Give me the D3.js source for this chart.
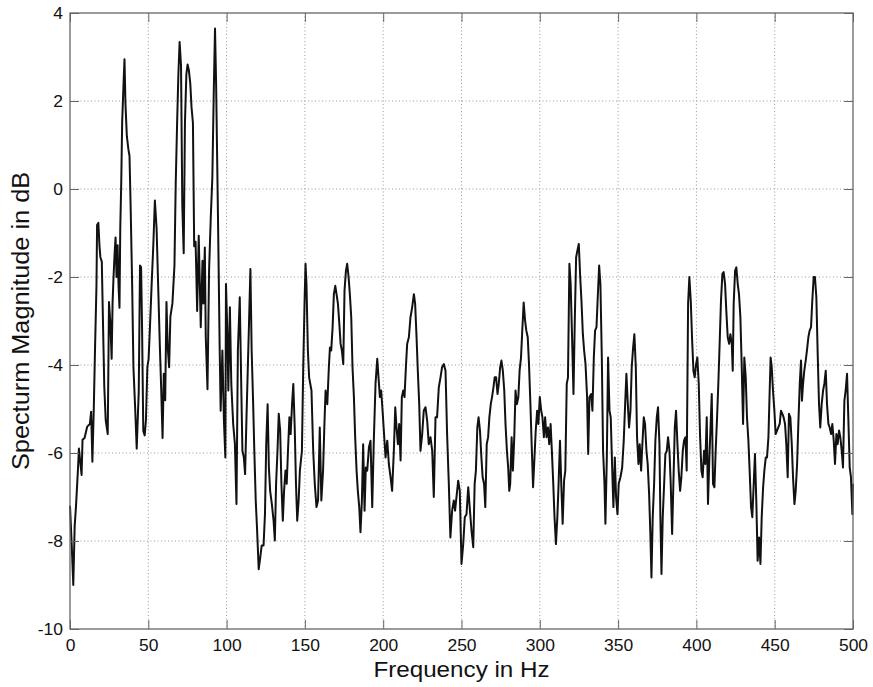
<!DOCTYPE html>
<html lang="en">
  <head>
    <meta charset="utf-8">
    <title>Spectrum</title>
    <script src="https://d3js.org/d3.v7.min.js"></script>
    <style>
      body { margin: 0; background: #fff; }
      svg text { font-family: "Liberation Sans", Arial, sans-serif; fill: #111; }
      .grid line { stroke: #999; stroke-width: 1px; stroke-dasharray: 1,2.5; }
      .tick-mark { stroke: #666; stroke-width: 1px; }
      .frame { fill: none; stroke: #666; stroke-width: 1.3px; }
      .spec { fill: none; stroke: #111; stroke-width: 2px; stroke-linejoin: round; }
    </style>
  </head>
  <body>
    <svg id="chart" width="873" height="687"></svg>
    <script>
      // frequency (Hz) and magnitude (dB)
      const freqHz = [
        0, 1, 2.1, 3, 3.8, 5.1, 5.7, 7.4, 8, 9.3, 11, 12.7, 13.5, 14.3, 15.2, 16, 16.9, 17.3, 18.1, 18.8,
        19.4, 20.3, 21.1, 21.9, 22.8, 24.1, 24.9, 25.7, 26.6, 27.2, 27.8, 28.5, 29.1, 29.7, 30.4, 31, 31.6, 32.1, 32.7, 33.3,
        34.2, 34.8, 35.4, 36.3, 37.3, 38, 38.8, 39.7, 40.5, 41.6, 42.6, 43.9, 44.7, 45.4, 46, 46.8, 47.7, 48.5, 49.4, 50.2,
        51.1, 52.1, 53.2, 54.2, 55.3, 56.3, 57.4, 58.2, 59.1, 59.9, 60.8, 61.6, 62.4, 63.3, 64.1, 65.4, 66.7, 67.5, 68.4, 69.2,
        70, 70.9, 71.7, 72.6, 73.4, 74.3, 75.1, 75.9, 76.8, 77.6, 78.5, 79.3, 80.2, 81.2, 82.2, 83.5, 84.6, 85.2, 86.1, 86.7,
        87.8, 88.8, 89.9, 90.9, 91.8, 92.6, 93.3, 94.5, 95.6, 96.2, 97.3, 98.3, 99.2, 99.6, 100.4, 101.1, 102.1, 103, 104.2, 105.3,
        106.3, 107.2, 108.4, 109.3, 110.1, 111, 111.8, 112.7, 113.5, 114.3, 115.2, 116, 116.9, 117.7, 118.6, 119.4, 120.5, 121.5, 122.4, 123.6,
        124.5, 125.3, 126.2, 127, 127.8, 128.9, 130, 130.8, 131.6, 132.5, 133.3, 134.2, 135, 135.9, 136.7, 137.6, 138.4, 139.2, 140.1, 140.9,
        141.8, 142.6, 143.5, 144.3, 145.1, 146, 146.8, 148.1, 148.9, 149.8, 150.4, 151, 151.9, 152.7, 154.2, 155.3, 156.3, 157.4, 158.4, 159.5,
        160.5, 161.6, 162.4, 163.2, 164.3, 165.3, 166, 166.8, 167.7, 168.5, 169.4, 170.2, 171.1, 172, 172.8, 173.6, 174.5, 175.3, 176.2, 177,
        177.9, 178.7, 179.6, 180.4, 181.3, 182.1, 183, 183.8, 184.7, 185.5, 186.4, 187.2, 188.1, 188.9, 189.8, 190.9, 191.9, 193, 194, 195.1,
        196.2, 197, 197.9, 198.7, 199.6, 200.4, 201.5, 202.6, 203.6, 204.7, 205.7, 206.8, 207.7, 208.5, 209.4, 210.2, 211.1, 211.9, 212.8, 213.6,
        214.5, 215.3, 216.4, 217.4, 218.5, 219.6, 220.4, 221.3, 222.1, 223, 223.8, 224.9, 225.9, 227, 228.1, 229.1, 230.2, 231.3, 232.3, 233.4,
        234.4, 235.5, 236.6, 237.6, 238.7, 239.8, 240.8, 241.9, 242.9, 244, 245.1, 245.9, 246.8, 247.9, 248.9, 250, 251.1, 252.1, 253.2, 254.3,
        255.4, 256.4, 257.5, 258.4, 259.2, 260.1, 260.9, 261.8, 262.7, 263.5, 264.4, 265.2, 266.1, 267, 267.8, 268.7, 269.5, 270.4, 271.2, 272.1,
        273, 273.8, 274.7, 275.5, 276.4, 277.3, 278.1, 279, 279.8, 280.5, 281.1, 282, 282.8, 283.7, 284.5, 285.4, 286.3, 287.1, 288, 288.8,
        289.7, 290.6, 291.4, 292.3, 293.1, 294, 294.8, 295.7, 296.6, 297.4, 298.3, 299.1, 300, 300.9, 301.7, 302.6, 303.4, 304.3, 305.2, 306,
        306.9, 307.7, 308.6, 309.4, 310.3, 311.2, 312, 312.9, 313.7, 314.6, 315.5, 316.3, 317.2, 318, 318.9, 319.7, 320.6, 321.5, 322.3, 323.2,
        324, 324.9, 325.8, 326.6, 327.5, 328.3, 329.2, 330.2, 330.9, 331.7, 332.8, 333.6, 334.5, 335.3, 336.2, 337, 337.9, 338.7, 339.6, 340.4,
        341.3, 341.9, 342.8, 343.6, 344.5, 345.3, 346.2, 347, 347.9, 348.7, 349.6, 350.4, 351.5, 352.6, 353.6, 354.5, 355.3, 356.2, 357, 357.9,
        358.7, 359.6, 360.4, 361.3, 362.1, 363, 363.8, 364.7, 365.5, 366.4, 367.2, 368.1, 368.9, 369.8, 370.6, 371.3, 372.1, 373, 373.8, 374.7,
        375.5, 376.4, 377, 377.7, 378.5, 379.4, 380.2, 381.1, 381.9, 382.8, 383.6, 384.5, 385.3, 386.2, 387, 387.9, 388.7, 389.6, 390.4, 391.3,
        392.1, 393, 393.8, 394.7, 395.5, 396.4, 397.2, 398.1, 398.9, 399.8, 400.6, 401.5, 402.3, 403.2, 404, 404.9, 405.7, 406.6, 407.4, 408.3,
        409.1, 409.8, 410.6, 411.5, 412.3, 413.2, 414, 414.9, 415.7, 416.6, 417.4, 418.3, 419.1, 420, 420.9, 421.7, 422.6, 423.2, 423.8, 424.7,
        425.5, 426.4, 427.2, 428.1, 428.9, 429.8, 430.6, 431.5, 432.3, 433.2, 434, 434.9, 435.7, 436.6, 437.4, 438.3, 439.1, 440, 440.9, 441.7,
        442.6, 443.4, 444.3, 445.1, 446, 446.8, 447.4, 448.1, 448.9, 449.8, 450.6, 451.5, 452.3, 453.2, 454, 454.9, 455.7, 456.6, 457.4, 458.3,
        459.1, 460, 460.9, 461.7, 462.6, 463.4, 464.3, 465.1, 466, 466.8, 467.4, 468.1, 468.9, 469.8, 470.6, 471.5, 472.3, 473.2, 474, 474.9,
        475.7, 476.6, 477.4, 478.3, 479.1, 480, 480.9, 481.7, 482.6, 483.4, 484.3, 485.1, 486, 486.8, 487.7, 488.5, 489.4, 490.2, 491.1, 491.9,
        492.8, 493.6, 494.5, 495.3, 496.2, 497, 497.9, 498.7, 499.6, 500
      ];
      const magDb = [
        -7.2, -8.0, -9.0, -7.65, -7.23, -6.36, -5.9, -6.5, -5.7, -5.66, -5.4, -5.34, -5.06, -6.2, -4.97, -3.6, -2.2, -0.82, -0.77, -1.28,
        -1.55, -1.65, -3.1, -4.5, -5.25, -5.57, -2.57, -3.0, -3.86, -2.57, -2.0, -1.46, -1.1, -2.0, -1.28, -2.2, -2.7, -0.9, 0.1, 1.5,
        2.4, 2.95, 1.95, 1.2, 0.9, 0.75, -0.54, -2.2, -4.05, -4.97, -5.9, -4.6, -1.74, -1.78, -3.1, -5.5, -5.6, -5.25, -4.05, -3.86,
        -3.1, -2.2, -1.28, -0.26, -0.9, -2.2, -3.6, -4.5, -5.66, -4.2, -4.8, -2.57, -3.6, -4.05, -2.9, -2.6, -1.74, 0.1, 1.5, 2.6,
        3.34, 2.8, -0.36, -1.46, 1.5, 2.6, 2.83, 2.7, 2.4, 1.86, 1.5, -1.3, -1.2, -2.77, -1.06, -3.14, -1.63, -2.6, -1.33, -3.37,
        -4.55, -1.86, -0.64, 0.26, 2.2, 3.65, 2.4, -0.64, -3.67, -5.04, -3.67, -5.27, -6.1, -2.16, -3.14, -4.58, -2.69, -4.43, -5.34, -5.8,
        -7.16, -3.67, -2.46, -4.36, -5.95, -6.1, -6.48, -5.19, -4.13, -3.07, -1.82, -3.67, -4.81, -5.95, -7.08, -7.69, -8.64, -8.37, -8.1, -8.1,
        -7.39, -5.8, -4.89, -6.33, -6.86, -7.16, -7.54, -7.99, -6.7, -5.95, -5.11, -5.49, -6.7, -7.54, -6.86, -6.4, -6.7, -5.95, -5.19, -5.57,
        -4.89, -4.43, -5.42, -6.7, -7.54, -7.08, -6.4, -5.95, -4.13, -2.54, -1.7, -2.16, -3.67, -4.28, -4.58, -5.95, -6.7, -7.23, -7.08, -5.42,
        -7.08, -6.4, -5.42, -4.58, -4.89, -4.05, -3.6, -3.67, -3.14, -2.39, -2.2, -2.39, -2.61, -3.07, -3.52, -3.67, -3.98, -2.31, -1.86, -1.7,
        -2.0, -2.39, -2.92, -4.05, -4.73, -5.64, -6.4, -6.86, -7.23, -7.8, -7.08, -5.8, -7.31, -6.33, -6.4, -5.87, -5.72, -7.23, -5.72, -4.43,
        -3.86, -4.28, -4.73, -4.58, -5.04, -5.49, -6.1, -5.72, -6.25, -6.55, -6.86, -5.95, -4.96, -5.42, -5.8, -5.34, -6.17, -4.73, -4.58, -4.73,
        -4.05, -3.52, -3.37, -2.92, -2.69, -2.39, -2.61, -3.37, -4.13, -4.89, -5.95, -5.57, -5.04, -4.96, -5.27, -5.8, -5.64, -5.95, -7.0, -5.19,
        -5.19, -4.51, -4.28, -4.05, -3.98, -4.13, -5.57, -6.7, -7.92, -7.31, -7.08, -7.31, -7.0, -6.63, -6.86, -8.52, -8.07, -7.46, -7.39, -6.78,
        -7.31, -7.77, -8.14, -6.7, -6.4, -5.42, -5.19, -5.49, -6.1, -6.55, -6.7, -7.23, -5.8, -5.64, -5.19, -4.89, -4.73, -4.51, -4.28, -4.28,
        -4.66, -4.43, -4.05, -3.9, -4.13, -4.58, -5.34, -5.95, -6.33, -6.86, -6.7, -5.64, -6.4, -5.64, -4.58, -4.89, -4.73, -4.13, -3.83, -3.22,
        -2.58, -2.99, -3.22, -3.37, -3.98, -4.89, -5.8, -6.78, -6.1, -5.49, -5.04, -5.34, -4.73, -5.04, -5.19, -5.64, -5.19, -5.64, -5.42, -5.8,
        -5.34, -5.95, -6.7, -7.46, -8.07, -7.46, -6.7, -5.72, -6.7, -7.61, -6.63, -6.4, -4.43, -4.28, -1.7, -2.16, -3.37, -4.66, -3.07, -1.55,
        -1.4, -1.25, -2.0, -2.54, -3.3, -3.67, -3.98, -4.73, -6.02, -4.73, -4.66, -5.04, -3.83, -3.22, -3.14, -2.46, -1.74, -2.16, -3.83, -5.95,
        -6.7, -7.61, -6.1, -3.83, -5.04, -5.19, -6.33, -7.23, -6.1, -7.0, -7.39, -6.7, -6.55, -6.33, -5.72, -4.89, -4.2, -4.89, -5.42, -5.04,
        -4.05, -3.6, -3.3, -4.05, -5.64, -6.25, -5.8, -6.4, -5.8, -5.19, -5.34, -5.95, -6.25, -6.93, -7.84, -8.83, -7.46, -6.7, -5.72, -5.19,
        -4.96, -5.8, -7.46, -8.75, -7.46, -6.7, -6.02, -5.95, -5.64, -5.95, -6.7, -7.84, -6.7, -5.42, -5.04, -5.8, -6.4, -6.86, -6.55, -5.95,
        -5.72, -5.64, -6.4, -2.61, -2.0, -2.54, -3.37, -4.13, -4.28, -3.98, -3.83, -4.43, -5.57, -6.4, -6.55, -5.95, -6.25, -5.19, -7.16, -6.1,
        -5.34, -4.66, -6.7, -6.78, -5.95, -5.19, -4.43, -3.45, -2.54, -1.93, -1.89, -2.16, -2.77, -3.37, -3.52, -3.3, -3.52, -4.13, -2.61, -1.86,
        -1.78, -2.16, -2.39, -2.92, -3.98, -5.34, -3.83, -4.28, -5.19, -5.72, -6.4, -7.23, -7.46, -6.7, -6.02, -7.16, -8.45, -7.92, -8.52, -7.46,
        -6.78, -6.4, -6.1, -6.1, -5.64, -4.58, -3.83, -4.05, -4.58, -5.04, -5.57, -5.49, -5.42, -5.34, -5.04, -5.11, -5.19, -5.34, -5.8, -6.55,
        -5.11, -5.19, -5.8, -6.55, -7.16, -6.86, -6.25, -5.34, -4.43, -3.9, -4.81, -4.43, -4.13, -3.9, -3.67, -3.37, -3.22, -3.14, -2.54, -2.0,
        -2.0, -2.46, -3.67, -4.89, -5.42, -4.89, -4.58, -4.43, -4.13, -4.89, -5.34, -5.42, -5.57, -5.34, -5.72, -6.25, -5.57, -5.8, -5.49, -5.64,
        -5.95, -6.33, -4.81, -4.58, -4.2, -5.19, -6.33, -6.55, -7.39, -6.7
      ];
      const xTicks = [0, 50, 100, 150, 200, 250, 300, 350, 400, 450, 500];
      const yTicks = [-10, -8, -6, -4, -2, 0, 2, 4];

      const svg = d3.select('#chart');
      const plotL = 70, plotR = 853, plotT = 13, plotB = 629;

      const x = d3.scaleLinear().domain([0, 500]).range([plotL, plotR]);
      const y = d3.scaleLinear().domain([-10, 4]).range([plotB, plotT]);

      // the original figure text is a bit wider than normal Arial
      function widen(sel, k) {
        sel.each(function() {
          const w = this.getComputedTextLength();
          d3.select(this)
            .attr('textLength', w * k)
            .attr('lengthAdjust', 'spacingAndGlyphs');
        });
      }
      // plain hyphen minus like matlab, not the unicode minus d3 uses
      const plain = d => String(d);

      // dotted grid
      const grid = svg.append('g').attr('class', 'grid');
      grid.selectAll('.gx')
        .data(xTicks.slice(1, -1))
        .join('line')
        .attr('class', 'gx')
        .attr('x1', d => x(d)).attr('x2', d => x(d))
        .attr('y1', plotT).attr('y2', plotB);
      grid.selectAll('.gy')
        .data(yTicks.slice(1, -1))
        .join('line')
        .attr('class', 'gy')
        .attr('x1', plotL).attr('x2', plotR)
        .attr('y1', d => y(d)).attr('y2', d => y(d));

      // the spectrum
      const line = d3.line()
        .x((d, i) => x(freqHz[i]))
        .y(d => y(d));
      svg.append('path')
        .datum(magDb)
        .attr('class', 'spec')
        .attr('d', line);

      // axes, matlab style: ticks inside on all four sides
      const tk = 9;
      svg.append('g')
        .attr('transform', `translate(0,${plotB})`)
        .call(d3.axisBottom(x).tickValues(xTicks).tickFormat(plain).tickSize(-tk).tickPadding(10.5))
        .call(g => g.select('.domain').remove());
      svg.append('g')
        .attr('transform', `translate(0,${plotT})`)
        .call(d3.axisTop(x).tickValues(xTicks).tickSize(-tk).tickFormat(''))
        .call(g => g.select('.domain').remove());
      svg.append('g')
        .attr('transform', `translate(${plotL},0)`)
        .call(d3.axisLeft(y).tickValues(yTicks).tickFormat(plain).tickSize(-tk).tickPadding(7))
        .call(g => g.select('.domain').remove());
      svg.append('g')
        .attr('transform', `translate(${plotR},0)`)
        .call(d3.axisRight(y).tickValues(yTicks).tickSize(-tk).tickFormat(''))
        .call(g => g.select('.domain').remove());

      svg.selectAll('.tick line').attr('class', 'tick-mark');
      svg.selectAll('.tick text')
        .attr('font-size', 16)
        .style('font-family', '"Liberation Sans", Arial, sans-serif')
        .attr('fill', '#111')
        .call(widen, 1.09);

      svg.append('rect')
        .attr('class', 'frame')
        .attr('x', plotL).attr('y', plotT)
        .attr('width', plotR - plotL).attr('height', plotB - plotT);

      svg.append('text')
        .attr('x', (plotL + plotR) / 2)
        .attr('y', 677)
        .attr('text-anchor', 'middle')
        .attr('font-size', 22)
        .text('Frequency in Hz')
        .call(widen, 1.1);
      svg.append('text')
        .attr('transform', `translate(29,${(plotT + plotB) / 2}) rotate(-90)`)
        .attr('text-anchor', 'middle')
        .attr('font-size', 23)
        .text('Specturm Magnitude in dB')
        .call(widen, 1.1);
    </script>
  </body>
</html>
